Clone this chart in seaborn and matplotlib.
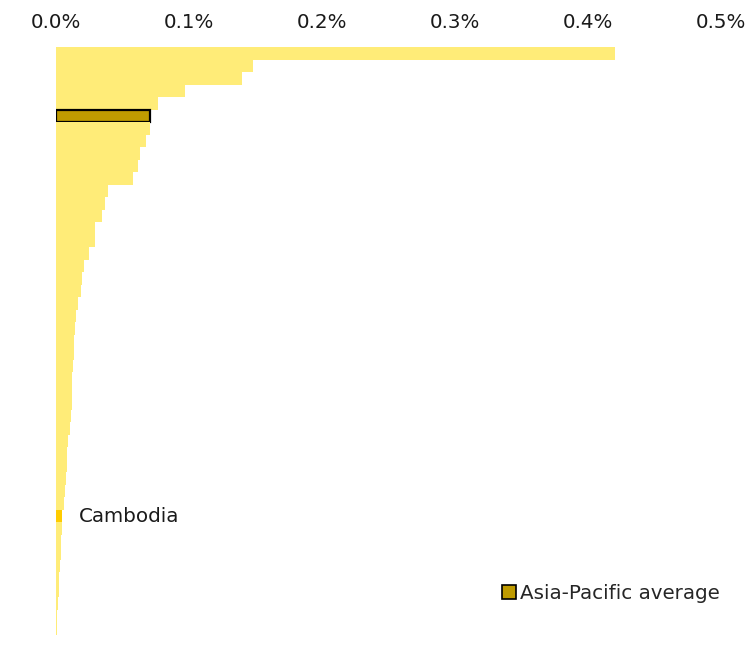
import numpy as np
import pandas as pd
import matplotlib
matplotlib.use("Agg")
import matplotlib.pyplot as plt
import seaborn as sns
from matplotlib.patches import Patch
from matplotlib.ticker import FuncFormatter

# --- Data (share, in %) ---
# Only the Asia-Pacific average and Cambodia are labelled in the source; the
# other economies are unnamed there, so generic labels are used.
ECONOMIES = [f"Economy {i}" for i in range(1, 6)] + ["Asia-Pacific average"] + \
            [f"Economy {i}" for i in range(6, 37)] + ["Cambodia"] + \
            [f"Economy {i}" for i in range(37, 47)]
VALUES = [0.420, 0.148, 0.140, 0.097, 0.077, 0.071, 0.071, 0.068, 0.063, 0.062,
          0.058, 0.039, 0.037, 0.035, 0.0295, 0.0295, 0.025, 0.021, 0.020, 0.019,
          0.017, 0.015, 0.0145, 0.014, 0.0135, 0.013, 0.0125, 0.0123, 0.012, 0.0115,
          0.0108, 0.0095, 0.0087, 0.0083, 0.0077, 0.0070, 0.0062, 0.0047, 0.0044, 0.0040,
          0.0036, 0.0032, 0.0027, 0.0023, 0.0017, 0.0012, 0.0008, 0.0004]
AVERAGE = "Asia-Pacific average"
HIGHLIGHT = "Cambodia"
X_TICKS = [0.0, 0.1, 0.2, 0.3, 0.4, 0.5]

BASE_COLOR = "#FFEC78"
AVG_COLOR = "#BF9B00"
HIGHLIGHT_COLOR = "#FFCC00"
FONT_SIZE = 14.3

df = pd.DataFrame({"Economy": ECONOMIES, "Value": VALUES})
colors = [AVG_COLOR if e == AVERAGE else HIGHLIGHT_COLOR if e == HIGHLIGHT else BASE_COLOR
          for e in df["Economy"]]
palette = dict(zip(df["Economy"], colors))

sns.set_theme(style="white")
plt.rcParams["font.family"] = ["DejaVu Sans"]

fig = plt.figure(figsize=(7.51, 6.46), dpi=100)
ax = fig.add_axes([0.0742, -0.002, 0.886, 0.9288])

sns.barplot(data=df, x="Value", y="Economy", hue="Economy", palette=palette,
            orient="h", width=1.0, legend=False, ax=ax, linewidth=0, saturation=1)

# outline the regional average bar
avg_idx = ECONOMIES.index(AVERAGE)
for i, bar in enumerate(ax.patches):
    if i == avg_idx:
        bar.set_edgecolor("black")
        bar.set_linewidth(1.6)
        bar.set_height(0.92)
        bar.set_y(avg_idx - 0.46)

# label for Cambodia
hl_idx = ECONOMIES.index(HIGHLIGHT)
ax.annotate(HIGHLIGHT, xy=(VALUES[hl_idx], hl_idx), xytext=(12, 0),
            textcoords="offset points", va="center", ha="left", fontsize=FONT_SIZE,
            color="#1a1a1a")

ax.set_xlim(0, 0.5)
ax.set_ylim(len(ECONOMIES) - 0.5, -0.5)
ax.set_xticks(X_TICKS)
ax.xaxis.set_major_formatter(FuncFormatter(lambda v, _: f"{v:.1f}%"))
ax.xaxis.tick_top()
ax.tick_params(axis="x", length=0, pad=11, labelsize=FONT_SIZE, colors="#1a1a1a")
ax.set_yticks([])
ax.set_xlabel("")
ax.set_ylabel("")
for s in ax.spines.values():
    s.set_visible(False)

handle = Patch(facecolor=AVG_COLOR, edgecolor="black", linewidth=1.2, label=AVERAGE)
fig.legend(handles=[handle], loc="center right", bbox_to_anchor=(0.9587, 0.081),
           frameon=False, fontsize=FONT_SIZE, handlelength=0.7, handleheight=0.7,
           handletextpad=0.2, borderaxespad=0, borderpad=0)

fig.savefig("out.png", dpi=100)
